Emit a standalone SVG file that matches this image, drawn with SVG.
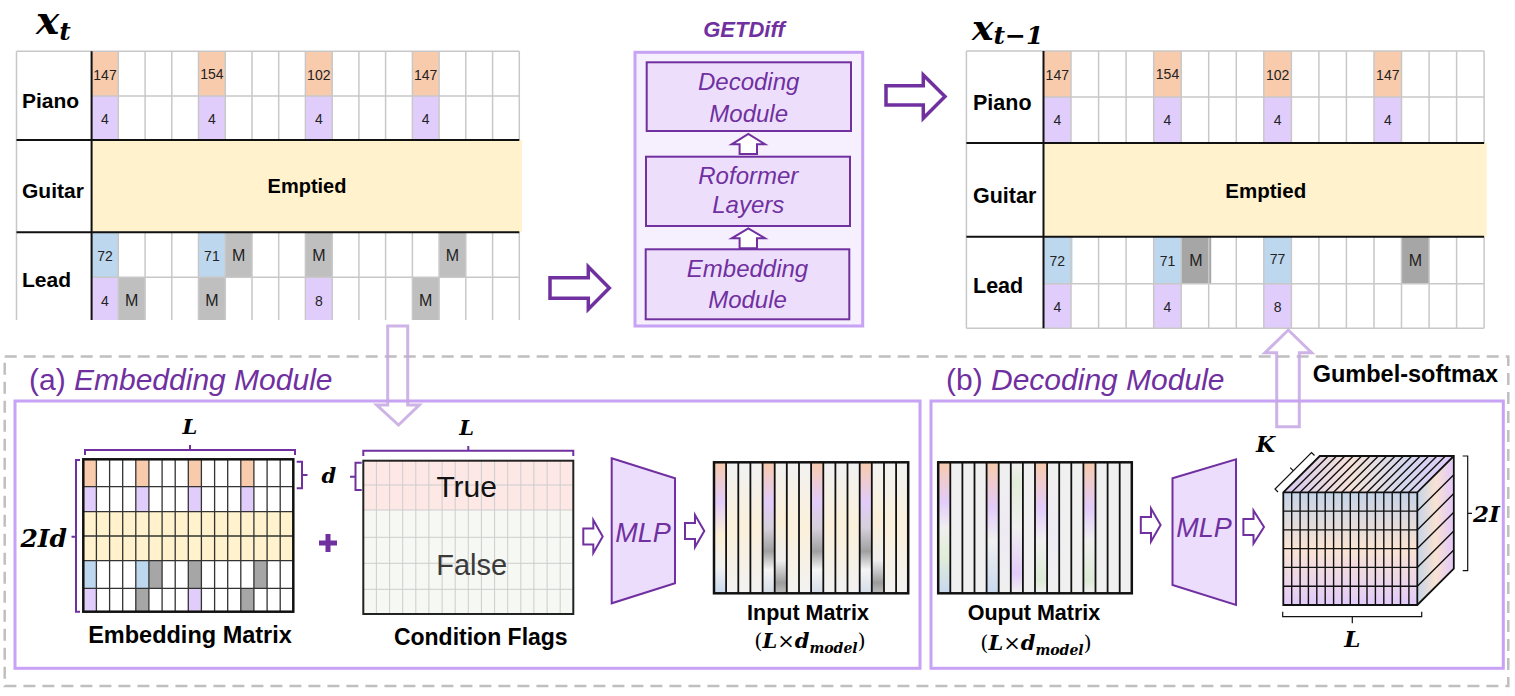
<svg xmlns="http://www.w3.org/2000/svg" width="1515" height="696" viewBox="0 0 1515 696">
<style>
.lbl{font-family:"Liberation Sans",Arial,sans-serif;font-weight:bold;fill:#000}
.num{font-family:"Liberation Sans",Arial,sans-serif;font-size:14px;fill:#222;text-anchor:middle}
.mm{font-family:"Liberation Sans",Arial,sans-serif;font-size:16px;fill:#222;text-anchor:middle}
.math{font-family:"DejaVu Serif","Liberation Serif",serif;font-weight:bold;font-style:italic;fill:#000}
.pit{font-family:"Liberation Sans",Arial,sans-serif;font-style:italic;fill:#7030A0}
.gl{fill:none;stroke:#C8C8C8;stroke-width:1.5}
.bl{fill:none;stroke:#111;stroke-width:2}
.or{fill:#F8CBAD}.pu{fill:#E1CDFB}.bu{fill:#BDD7EE}.gy{fill:#BFBFBF}.dg{fill:#A6A6A6}.ye{fill:#FFF2CC}
.box{fill:#EDDFFB;stroke:#7030A0;stroke-width:2}
.harrow{fill:#fff;stroke:#7030A0;stroke-width:2}
.brace{fill:none;stroke:#7030A0;stroke-width:2}
.panel{fill:none;stroke:#C8A2F4;stroke-width:3}
.ghost{fill:none;stroke:#C5A6E2;stroke-width:3;stroke-opacity:0.85}
</style>
<defs>
<linearGradient id="gInA" x1="0" y1="0" x2="0" y2="1"><stop offset="0" stop-color="#F8CBAD"/><stop offset=".3" stop-color="#E2CCFA"/><stop offset=".55" stop-color="#FCEFD5"/><stop offset=".8" stop-color="#F2F2F2"/><stop offset="1" stop-color="#C8D8EE"/></linearGradient>
<linearGradient id="gInB" x1="0" y1="0" x2="0" y2="1"><stop offset="0" stop-color="#F8CBAD"/><stop offset=".3" stop-color="#E2CCFA"/><stop offset=".5" stop-color="#D6D0DA"/><stop offset=".68" stop-color="#A0A0A0"/><stop offset=".82" stop-color="#F5F5F5"/><stop offset="1" stop-color="#D5DDE8"/></linearGradient>
<linearGradient id="gInC" x1="0" y1="0" x2="0" y2="1"><stop offset="0" stop-color="#F2F2F2"/><stop offset=".45" stop-color="#FBEFD8"/><stop offset=".75" stop-color="#EFEFEF"/><stop offset=".92" stop-color="#9C9C9C"/><stop offset="1" stop-color="#BDBDBD"/></linearGradient>
<linearGradient id="gInD" x1="0" y1="0" x2="0" y2="1"><stop offset="0" stop-color="#F2F2F2"/><stop offset=".5" stop-color="#FBF0DA"/><stop offset="1" stop-color="#F2F2F2"/></linearGradient>
<linearGradient id="gOutA" x1="0" y1="0" x2="0" y2="1"><stop offset="0" stop-color="#F8CBAD"/><stop offset=".3" stop-color="#E2CCFA"/><stop offset=".5" stop-color="#EFEFEF"/><stop offset=".7" stop-color="#E2EED8"/><stop offset="1" stop-color="#C8D8EE"/></linearGradient>
<linearGradient id="gOutB" x1="0" y1="0" x2="0" y2="1"><stop offset="0" stop-color="#F8CBAD"/><stop offset=".35" stop-color="#E2CCFA"/><stop offset=".6" stop-color="#F0F0F0"/><stop offset="1" stop-color="#C8D8EE"/></linearGradient>
<linearGradient id="gOutC" x1="0" y1="0" x2="0" y2="1"><stop offset="0" stop-color="#F0F0F0"/><stop offset=".15" stop-color="#E2EED8"/><stop offset=".5" stop-color="#F0F0F0"/><stop offset=".85" stop-color="#E2CCFA"/><stop offset="1" stop-color="#F0F0F0"/></linearGradient>
<linearGradient id="gOutD" x1="0" y1="0" x2="0" y2="1"><stop offset="0" stop-color="#F8CBAD"/><stop offset=".35" stop-color="#E2CCFA"/><stop offset=".6" stop-color="#F0F0F0"/><stop offset=".9" stop-color="#DDEBD5"/><stop offset="1" stop-color="#EFEFEF"/></linearGradient>
<linearGradient id="gOutE" x1="0" y1="0" x2="0" y2="1"><stop offset="0" stop-color="#F0F0F0"/><stop offset=".55" stop-color="#EEEAF3"/><stop offset="1" stop-color="#F0F0F0"/></linearGradient>
<linearGradient id="gFront" x1="0" y1="0" x2="0" y2="1"><stop offset="0" stop-color="#C5D3E8"/><stop offset=".5" stop-color="#FAE3D2"/><stop offset="1" stop-color="#E2CBFA"/></linearGradient>
<linearGradient id="gTop" x1="0" y1="0" x2="1" y2="0"><stop offset="0" stop-color="#D6C9F0"/><stop offset=".4" stop-color="#F6E2D8"/><stop offset=".7" stop-color="#D4D8EC"/><stop offset="1" stop-color="#E2CBFA"/></linearGradient>
<linearGradient id="gSide" x1="0" y1="0" x2="1" y2="0"><stop offset="0" stop-color="#C6D4E8"/><stop offset=".5" stop-color="#F8E2D2"/><stop offset="1" stop-color="#E2C8FA"/></linearGradient>
</defs>
<rect width="1515" height="696" fill="#fff"/>

<!-- x_t grid -->
<g id="xt">
<text class="math" x="36" y="34" font-size="39">x<tspan font-size="25" dy="6">t</tspan></text>
<rect class="or" x="91.6" y="51.3" width="26.7" height="44.7"/><rect class="or" x="198.5" y="51.3" width="26.7" height="44.7"/><rect class="or" x="305.4" y="51.3" width="26.7" height="44.7"/><rect class="or" x="412.4" y="51.3" width="26.7" height="44.7"/>
<rect class="pu" x="91.6" y="96" width="26.7" height="44"/><rect class="pu" x="198.5" y="96" width="26.7" height="44"/><rect class="pu" x="305.4" y="96" width="26.7" height="44"/><rect class="pu" x="412.4" y="96" width="26.7" height="44"/>
<rect class="ye" x="91.6" y="140" width="430.4" height="92.3"/>
<rect class="bu" x="91.6" y="232.3" width="26.7" height="45"/><rect class="bu" x="198.5" y="232.3" width="26.7" height="45"/><rect class="gy" x="225.3" y="232.3" width="26.7" height="45"/><rect class="gy" x="305.4" y="232.3" width="26.7" height="45"/><rect class="gy" x="439.1" y="232.3" width="26.7" height="45"/>
<rect class="pu" x="91.6" y="277.3" width="26.7" height="42.7"/><rect class="gy" x="118.3" y="277.3" width="26.7" height="42.7"/><rect class="gy" x="198.5" y="277.3" width="26.7" height="42.7"/><rect class="pu" x="305.4" y="277.3" width="26.7" height="42.7"/><rect class="gy" x="412.4" y="277.3" width="26.7" height="42.7"/>
<path class="gl" d="M118.3,51.3V140M145.1,51.3V140M171.8,51.3V140M198.5,51.3V140M225.3,51.3V140M252,51.3V140M278.7,51.3V140M305.4,51.3V140M332.2,51.3V140M358.9,51.3V140M385.6,51.3V140M412.4,51.3V140M439.1,51.3V140M465.8,51.3V140M492.6,51.3V140M519.3,51.3V140
M118.3,232.3V320M145.1,232.3V320M171.8,232.3V320M198.5,232.3V320M225.3,232.3V320M252,232.3V320M278.7,232.3V320M305.4,232.3V320M332.2,232.3V320M358.9,232.3V320M385.6,232.3V320M412.4,232.3V320M439.1,232.3V320M465.8,232.3V320M492.6,232.3V320M519.3,232.3V320
M16.5,51.3H519.3M91.6,96H519.3M91.6,277.3H519.3M16.5,51.3V320"/>
<path class="bl" d="M91.6,51.3V320M16.5,140H519.3M16.5,232.3H519.3"/>
<text class="lbl" font-size="21" x="22" y="108">Piano</text>
<text class="lbl" font-size="21" x="22" y="198">Guitar</text>
<text class="lbl" font-size="21" x="22" y="287">Lead</text>
<text class="lbl" font-size="20" x="307" y="193" text-anchor="middle">Emptied</text>
<text class="num" x="105" y="80">147</text><text class="num" x="211.9" y="79">154</text><text class="num" x="318.8" y="80">102</text><text class="num" x="425.7" y="80">147</text>
<text class="num" x="105" y="124">4</text><text class="num" x="211.9" y="124">4</text><text class="num" x="318.8" y="124">4</text><text class="num" x="425.7" y="124">4</text>
<text class="num" x="105" y="261">72</text><text class="num" x="211.9" y="261">71</text><text class="mm" x="238.6" y="261">M</text><text class="mm" x="318.8" y="261">M</text><text class="mm" x="452.4" y="261">M</text>
<text class="num" x="105" y="306">4</text><text class="mm" x="131.7" y="306">M</text><text class="mm" x="211.9" y="306">M</text><text class="num" x="318.8" y="306">8</text><text class="mm" x="425.7" y="306">M</text>
</g>

<!-- GETDiff -->
<g id="getdiff">
<text x="744" y="36.7" font-family="Liberation Sans,Arial,sans-serif" font-size="22" font-weight="bold" font-style="italic" fill="#7030A0" text-anchor="middle">GETDiff</text>
<rect x="635" y="52.3" width="227.7" height="273.7" fill="#F6EFFD" stroke="#C8A2F4" stroke-width="3"/>
</g>
<g id="decoding-box">
<rect class="box" x="646.7" y="62.3" width="204.3" height="68.7"/>
<text class="pit" font-size="24" x="748.7" y="90" text-anchor="middle">Decoding</text>
<text class="pit" font-size="24" x="748.7" y="121.7" text-anchor="middle">Module</text>
</g>
<g id="roformer-box">
<rect class="box" x="646" y="156.7" width="204" height="69.3"/>
<text class="pit" font-size="24" x="748.3" y="184" text-anchor="middle">Roformer</text>
<text class="pit" font-size="24" x="748.3" y="213" text-anchor="middle">Layers</text>
</g>
<g id="embedding-box">
<rect class="box" x="645.7" y="249.3" width="203.6" height="70"/>
<text class="pit" font-size="24" x="747.5" y="277" text-anchor="middle">Embedding</text>
<text class="pit" font-size="24" x="747.5" y="308.3" text-anchor="middle">Module</text>
</g>

<!-- x_{t-1} grid -->
<g id="xt1">
<text class="math" x="972" y="40" font-size="36">x<tspan font-size="25" dy="4">t−1</tspan></text>
<rect class="or" x="1043.5" y="51" width="27.5" height="46"/><rect class="or" x="1153.7" y="51" width="27.5" height="46"/><rect class="or" x="1263.8" y="51" width="27.5" height="46"/><rect class="or" x="1374" y="51" width="27.5" height="46"/>
<rect class="pu" x="1043.5" y="97" width="27.5" height="46"/><rect class="pu" x="1153.7" y="97" width="27.5" height="46"/><rect class="pu" x="1263.8" y="97" width="27.5" height="46"/><rect class="pu" x="1374" y="97" width="27.5" height="46"/>
<rect class="ye" x="1043.5" y="143" width="443.2" height="93.7"/>
<rect class="bu" x="1043.5" y="236.7" width="29" height="47"/><rect class="bu" x="1153.7" y="236.7" width="27.5" height="47"/><rect class="dg" x="1181.2" y="236.7" width="30" height="47"/><rect class="bu" x="1263.8" y="236.7" width="27.5" height="47"/><rect class="dg" x="1401.5" y="236.7" width="27.5" height="47"/>
<rect class="pu" x="1043.5" y="283.7" width="27.5" height="44.6"/><rect class="pu" x="1153.7" y="283.7" width="27.5" height="44.6"/><rect class="pu" x="1263.8" y="283.7" width="27.5" height="44.6"/>
<path class="gl" d="M1071,51V143M1098.6,51V143M1126.1,51V143M1153.7,51V143M1181.2,51V143M1208.7,51V143M1236.3,51V143M1263.8,51V143M1291.4,51V143M1318.9,51V143M1346.4,51V143M1374,51V143M1401.5,51V143M1429.1,51V143M1456.6,51V143M1484.1,51V143
M1071,236.7V328.3M1098.6,236.7V328.3M1126.1,236.7V328.3M1153.7,236.7V328.3M1181.2,236.7V328.3M1208.7,236.7V328.3M1236.3,236.7V328.3M1263.8,236.7V328.3M1291.4,236.7V328.3M1318.9,236.7V328.3M1346.4,236.7V328.3M1374,236.7V328.3M1401.5,236.7V328.3M1429.1,236.7V328.3M1456.6,236.7V328.3M1484.1,236.7V328.3
M966.4,51H1484.1M1043.5,97H1484.1M1043.5,283.7H1484.1M966.4,328.3H1484.1M966.4,51V328.3"/>
<path class="bl" d="M1043.5,51V328.3M966.4,143H1484.1M966.4,236.7H1484.1"/>
<text class="lbl" font-size="21.5" x="973" y="110">Piano</text>
<text class="lbl" font-size="21.5" x="973" y="202.7">Guitar</text>
<text class="lbl" font-size="21.5" x="973" y="293.3">Lead</text>
<text class="lbl" font-size="20.5" x="1265.8" y="198" text-anchor="middle">Emptied</text>
<text class="num" x="1057.3" y="80">147</text><text class="num" x="1167.5" y="79">154</text><text class="num" x="1277.6" y="80">102</text><text class="num" x="1387.8" y="80">147</text>
<text class="num" x="1057.3" y="125">4</text><text class="num" x="1167.5" y="125">4</text><text class="num" x="1277.6" y="125">4</text><text class="num" x="1387.8" y="125">4</text>
<text class="num" x="1057.3" y="266">72</text><text class="num" x="1167.5" y="266">71</text><text class="mm" x="1196" y="266">M</text><text class="num" x="1277.6" y="264">77</text><text class="mm" x="1415.3" y="266">M</text>
<text class="num" x="1057.3" y="311.7">4</text><text class="num" x="1167.5" y="311.7">4</text><text class="num" x="1277.6" y="311.7">8</text>
</g>

<!-- lower frame -->
<g id="frame">
<rect x="4.7" y="356.5" width="1503.6" height="329.5" fill="none" stroke="#BFBFBF" stroke-width="2.5" stroke-dasharray="12 7"/>
</g>

<g id="panel-a">
<rect class="panel" x="15" y="401" width="905" height="267.3"/>
<text font-family="Liberation Sans,Arial,sans-serif" font-size="30" fill="#7030A0" x="29" y="390">(a) <tspan font-style="italic">Embedding Module</tspan></text>
</g>
<g id="panel-b">
<rect class="panel" x="931" y="401" width="572.3" height="267.3"/>
<text font-family="Liberation Sans,Arial,sans-serif" font-size="30" fill="#7030A0" x="946" y="390">(b) <tspan font-style="italic">Decoding Module</tspan></text>
</g>

<!-- Embedding matrix -->
<g id="embedding-matrix">
<rect class="or" x="83.3" y="459.3" width="13.1" height="27.4"/><rect class="or" x="135.8" y="459.3" width="13.1" height="27.4"/><rect class="or" x="188.3" y="459.3" width="13.1" height="27.4"/><rect class="or" x="240.8" y="459.3" width="13.1" height="27.4"/>
<rect class="pu" x="83.3" y="486.7" width="13.1" height="25"/><rect class="pu" x="135.8" y="486.7" width="13.1" height="25"/><rect class="pu" x="188.3" y="486.7" width="13.1" height="25"/><rect class="pu" x="240.8" y="486.7" width="13.1" height="25"/>
<rect class="ye" x="83.3" y="511.7" width="210" height="49"/>
<rect class="bu" x="83.3" y="560.7" width="13.1" height="27.6"/><rect class="bu" x="135.8" y="560.7" width="13.1" height="27.6"/><rect class="dg" x="148.9" y="560.7" width="13.1" height="27.6"/><rect class="dg" x="188.3" y="560.7" width="13.1" height="27.6"/><rect class="dg" x="253.9" y="560.7" width="13.1" height="27.6"/>
<rect class="pu" x="83.3" y="588.3" width="13.1" height="23.4"/><rect class="dg" x="135.8" y="588.3" width="13.1" height="23.4"/><rect class="pu" x="188.3" y="588.3" width="13.1" height="23.4"/><rect class="dg" x="240.8" y="588.3" width="13.1" height="23.4"/>
<path fill="none" stroke="#333" stroke-width="1.3" d="M96.4,459.3V611.7M109.6,459.3V611.7M122.7,459.3V611.7M135.8,459.3V611.7M148.9,459.3V611.7M162.1,459.3V611.7M175.2,459.3V611.7M188.3,459.3V611.7M201.4,459.3V611.7M214.6,459.3V611.7M227.7,459.3V611.7M240.8,459.3V611.7M253.9,459.3V611.7M267.1,459.3V611.7M280.2,459.3V611.7M83.3,486.7H293.3M83.3,511.7H293.3M83.3,536H293.3M83.3,560.7H293.3M83.3,588.3H293.3"/>
<rect x="83.3" y="459.3" width="210" height="152.4" fill="none" stroke="#111" stroke-width="2.5"/>
<path class="brace" d="M85,455V450H295V455M190,450V445"/>
<text class="math" font-size="21" x="190" y="434" text-anchor="middle">L</text>
<path class="brace" d="M80,460H76V611.7H80M76,536.7H71.5"/>
<text class="math" font-size="25" x="67" y="546.7" text-anchor="end">2Id</text>
<path class="brace" d="M296.7,461.7H302V488.3H296.7M302,475H307.5"/>
<text class="math" font-size="21" x="321.5" y="483.3">d</text>
<text class="lbl" font-size="23.5" x="190" y="643.3" text-anchor="middle">Embedding Matrix</text>
</g>

<g id="plus">
<path d="M319,543H337M328,534V552" stroke="#7030A0" stroke-width="5" fill="none"/>
</g>

<!-- Condition flags -->
<g id="condition-flags">
<rect x="363.3" y="460.7" width="210" height="49.3" fill="#FDE8E6"/>
<rect x="363.3" y="510" width="210" height="104" fill="#F6F8F3"/>
<path fill="none" stroke="#CDCDCD" stroke-width="1" d="M376.4,460.7V614M389.6,460.7V614M402.7,460.7V614M415.8,460.7V614M428.9,460.7V614M442.1,460.7V614M455.2,460.7V614M468.3,460.7V614M481.4,460.7V614M494.6,460.7V614M507.7,460.7V614M520.8,460.7V614M533.9,460.7V614M547.1,460.7V614M560.2,460.7V614M363.3,485H573.3M363.3,510H573.3M363.3,537.3H573.3M363.3,563.3H573.3M363.3,589.3H573.3"/>
<rect x="363.3" y="460.7" width="210" height="153.3" fill="none" stroke="#222" stroke-width="2"/>
<text font-family="Liberation Sans,Arial,sans-serif" font-size="30" fill="#111" x="466.7" y="496.7" text-anchor="middle">True</text>
<text font-family="Liberation Sans,Arial,sans-serif" font-size="29" fill="#3A3A3A" x="471.7" y="575" text-anchor="middle">False</text>
<path class="brace" d="M363.3,456V450.7H573.3V456M468.3,450.7V446"/>
<text class="math" font-size="21" x="466.7" y="435" text-anchor="middle">L</text>
<path class="brace" d="M361.7,462.7H355.5V490H361.7M355.5,476.7H350"/>
<text class="lbl" font-size="23" x="480.8" y="645" text-anchor="middle">Condition Flags</text>
</g>

<g id="mlp-1">
<polygon points="611.7,458.3 675,478.3 675,583.3 611.7,603.3" fill="#EBDDFB" stroke="#7030A0" stroke-width="2"/>
<text class="pit" font-size="27" x="643" y="541.7" text-anchor="middle">MLP</text>
</g>

<g id="input-matrix">
<rect x="714" y="462.3" width="12.14" height="131" fill="url(#gInA)"/>
<rect x="726.1" y="462.3" width="12.14" height="131" fill="url(#gInD)"/>
<rect x="738.3" y="462.3" width="12.14" height="131" fill="url(#gInD)"/>
<rect x="750.4" y="462.3" width="12.14" height="131" fill="url(#gInD)"/>
<rect x="762.6" y="462.3" width="12.14" height="131" fill="url(#gInB)"/>
<rect x="774.7" y="462.3" width="12.14" height="131" fill="url(#gInC)"/>
<rect x="786.8" y="462.3" width="12.14" height="131" fill="url(#gInD)"/>
<rect x="799" y="462.3" width="12.14" height="131" fill="url(#gInD)"/>
<rect x="811.1" y="462.3" width="12.14" height="131" fill="url(#gInB)"/>
<rect x="823.3" y="462.3" width="12.14" height="131" fill="url(#gInD)"/>
<rect x="835.4" y="462.3" width="12.14" height="131" fill="url(#gInD)"/>
<rect x="847.5" y="462.3" width="12.14" height="131" fill="url(#gInD)"/>
<rect x="859.7" y="462.3" width="12.14" height="131" fill="url(#gInB)"/>
<rect x="871.8" y="462.3" width="12.14" height="131" fill="url(#gInC)"/>
<rect x="884" y="462.3" width="12.14" height="131" fill="url(#gInD)"/>
<rect x="896.1" y="462.3" width="12.14" height="131" fill="url(#gInD)"/>
<path fill="none" stroke="#111" stroke-width="1.8" d="M726.1,462.3V593.3M738.3,462.3V593.3M750.4,462.3V593.3M762.6,462.3V593.3M774.7,462.3V593.3M786.8,462.3V593.3M799,462.3V593.3M811.1,462.3V593.3M823.3,462.3V593.3M835.4,462.3V593.3M847.5,462.3V593.3M859.7,462.3V593.3M871.8,462.3V593.3M884,462.3V593.3M896.1,462.3V593.3"/>
<rect x="714" y="462.3" width="194.2" height="131" fill="none" stroke="#111" stroke-width="2.5"/>
<text class="lbl" font-size="21.5" x="808" y="620" text-anchor="middle">Input Matrix</text>
<text x="810" y="648" text-anchor="middle" font-family="DejaVu Serif,Liberation Serif,serif" font-size="21">(<tspan class="math">L</tspan>×<tspan class="math">d</tspan><tspan class="math" font-size="14" dy="5">model</tspan><tspan dy="-5">)</tspan></text>
</g>

<g id="output-matrix">
<rect x="938.2" y="462.3" width="12.1" height="131" fill="url(#gOutA)"/>
<rect x="950.3" y="462.3" width="12.1" height="131" fill="#F0F0F0"/>
<rect x="962.4" y="462.3" width="12.1" height="131" fill="#F0F0F0"/>
<rect x="974.5" y="462.3" width="12.1" height="131" fill="#F0F0F0"/>
<rect x="986.6" y="462.3" width="12.1" height="131" fill="url(#gOutB)"/>
<rect x="998.7" y="462.3" width="12.1" height="131" fill="url(#gOutE)"/>
<rect x="1010.8" y="462.3" width="12.1" height="131" fill="url(#gOutC)"/>
<rect x="1022.9" y="462.3" width="12.1" height="131" fill="#F0F0F0"/>
<rect x="1035" y="462.3" width="12.1" height="131" fill="url(#gOutD)"/>
<rect x="1047.1" y="462.3" width="12.1" height="131" fill="url(#gOutE)"/>
<rect x="1059.2" y="462.3" width="12.1" height="131" fill="#F0F0F0"/>
<rect x="1071.3" y="462.3" width="12.1" height="131" fill="#F0F0F0"/>
<rect x="1083.4" y="462.3" width="12.1" height="131" fill="url(#gOutD)"/>
<rect x="1095.5" y="462.3" width="12.1" height="131" fill="#F0F0F0"/>
<rect x="1107.6" y="462.3" width="12.1" height="131" fill="#F0F0F0"/>
<rect x="1119.7" y="462.3" width="12.1" height="131" fill="#F0F0F0"/>
<path fill="none" stroke="#111" stroke-width="1.8" d="M950.3,462.3V593.3M962.4,462.3V593.3M974.5,462.3V593.3M986.6,462.3V593.3M998.7,462.3V593.3M1010.8,462.3V593.3M1022.9,462.3V593.3M1035,462.3V593.3M1047.1,462.3V593.3M1059.2,462.3V593.3M1071.3,462.3V593.3M1083.4,462.3V593.3M1095.5,462.3V593.3M1107.6,462.3V593.3M1119.7,462.3V593.3"/>
<rect x="938.2" y="462.3" width="193.6" height="131" fill="none" stroke="#111" stroke-width="2.5"/>
<text class="lbl" font-size="21.5" x="1034" y="620" text-anchor="middle">Ouput Matrix</text>
<text x="1036" y="650" text-anchor="middle" font-family="DejaVu Serif,Liberation Serif,serif" font-size="21">(<tspan class="math">L</tspan>×<tspan class="math">d</tspan><tspan class="math" font-size="14" dy="5">model</tspan><tspan dy="-5">)</tspan></text>
</g>

<g id="mlp-2">
<polygon points="1172.5,478.3 1236,459.3 1236,605 1172.5,585" fill="#EBDDFB" stroke="#7030A0" stroke-width="2"/>
<text class="pit" font-size="27" x="1204" y="536.7" text-anchor="middle">MLP</text>
</g>

<g id="cube">
<polygon points="1283.3,492.3 1319.8,456 1453.8,456 1417.3,492.3" fill="url(#gTop)"/>
<polygon points="1417.3,492.3 1453.8,456 1453.8,568.7 1417.3,605" fill="url(#gSide)"/>
<rect x="1283.3" y="492.3" width="134" height="112.7" fill="url(#gFront)"/>
<path fill="none" stroke="#111" stroke-width="1.4" d="M1291.7,492.3V605M1300.1,492.3V605M1308.4,492.3V605M1316.8,492.3V605M1325.2,492.3V605M1333.6,492.3V605M1341.9,492.3V605M1350.3,492.3V605M1358.7,492.3V605M1367,492.3V605M1375.4,492.3V605M1383.8,492.3V605M1392.2,492.3V605M1400.5,492.3V605M1408.9,492.3V605
M1283.3,511.1H1417.3M1283.3,529.9H1417.3M1283.3,548.6H1417.3M1283.3,567.4H1417.3M1283.3,586.2H1417.3
M1291.7,492.3l36.5,-36.3M1300.1,492.3l36.5,-36.3M1308.4,492.3l36.5,-36.3M1316.8,492.3l36.5,-36.3M1325.2,492.3l36.5,-36.3M1333.6,492.3l36.5,-36.3M1341.9,492.3l36.5,-36.3M1350.3,492.3l36.5,-36.3M1358.7,492.3l36.5,-36.3M1367,492.3l36.5,-36.3M1375.4,492.3l36.5,-36.3M1383.8,492.3l36.5,-36.3M1392.2,492.3l36.5,-36.3M1400.5,492.3l36.5,-36.3M1408.9,492.3l36.5,-36.3
M1417.3,511.1l36.5,-36.3M1417.3,529.9l36.5,-36.3M1417.3,548.6l36.5,-36.3M1417.3,567.4l36.5,-36.3M1417.3,586.2l36.5,-36.3"/>
<path fill="none" stroke="#111" stroke-width="1.8" d="M1283.3,492.3L1319.8,456H1453.8V568.7L1417.3,605H1283.3ZM1283.3,492.3H1417.3V605M1417.3,492.3L1453.8,456"/>
<path fill="none" stroke="#111" stroke-width="1.2" d="M1278,492L1275,489L1311.5,452.5L1314.5,455.5M1293.2,470.7L1290.2,467.7"/>
<text class="math" font-size="22" x="1256" y="451.7">K</text>
<path fill="none" stroke="#111" stroke-width="1.2" d="M1462.7,456H1467.7V570.7H1462.7M1467.7,513.3H1472"/>
<text class="math" font-size="23" x="1473" y="521.7">2I</text>
<path fill="none" stroke="#111" stroke-width="1.2" d="M1282.7,611.7V616.7H1421.7V611.7M1352.3,616.7V623.3"/>
<text class="math" font-size="23" x="1352.3" y="646.7" text-anchor="middle">L</text>
</g>

<text class="lbl" font-size="23.5" x="1312.7" y="381.7">Gumbel-softmax</text>

<!-- connectors -->
<g id="connectors">
<polygon points="550,277.7 588.3,277.7 588.3,266.7 609.3,288 588.3,309.3 588.3,298.3 550,298.3" fill="#fff" stroke="#7030A0" stroke-width="3.5"/>
<polygon points="886,85.7 923.3,85.7 923.3,75 945,96.5 923.3,118.3 923.3,105 886,105" fill="#fff" stroke="#7030A0" stroke-width="3.5"/>
<polygon class="harrow" points="739.6,154 739.6,144.3 731.7,144.3 748.3,134 765,144.3 757,144.3 757,154"/>
<polygon class="harrow" points="739.6,248.3 739.6,238.3 731.7,238.3 748.3,228.3 765,238.3 757,238.3 757,248.3"/>
<polygon class="ghost" points="387.7,326 407.7,326 407.7,405 419.3,405 398.5,425 376.7,405 387.7,405"/>
<polygon class="ghost" points="1276.7,426.7 1299.3,426.7 1299.3,352.7 1311.7,352.7 1288.3,330 1265,352.7 1276.7,352.7"/>
<polygon class="harrow" points="583.3,528.5 593.3,528.5 593.3,520 602.7,536.5 593.3,553 593.3,544.5 583.3,544.5"/>
<polygon class="harrow" points="685,523 695,523 695,515 704.3,531 695,547 695,539 685,539"/>
<polygon class="harrow" points="1140.8,517 1151,517 1151,508.5 1160.6,525 1151,541.5 1151,533 1140.8,533"/>
<polygon class="harrow" points="1243.4,519 1253.5,519 1253.5,510.5 1264,527 1253.5,543.5 1253.5,535 1243.4,535"/>
</g>
</svg>
